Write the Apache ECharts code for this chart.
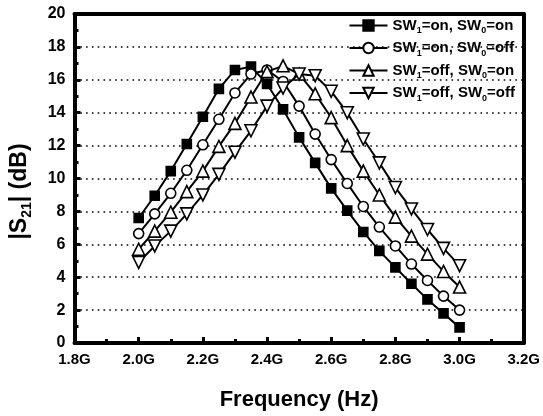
<!DOCTYPE html>
<html>
<head>
<meta charset="utf-8">
<script src="https://cdn.jsdelivr.net/npm/echarts@6/dist/echarts.min.js"></script>
<style>
html,body{margin:0;padding:0;background:#fff;}
#chart{width:543px;height:416px;}
</style>
</head>
<body>
<div id="chart"></div>
<script>
// Frequency points (GHz)
var freqGHz = [2.0, 2.05, 2.1, 2.15, 2.2, 2.25, 2.3, 2.35, 2.4, 2.45, 2.5, 2.55, 2.6, 2.65, 2.7, 2.75, 2.8, 2.85, 2.9, 2.95, 3.0];

var seriesNames = ['SW1=on, SW0=on', 'SW1=on, SW0=off', 'SW1=off, SW0=on', 'SW1=off, SW0=off'];

var s21OnOn   = [7.6, 8.95, 10.45, 12.1, 13.75, 15.45, 16.6, 16.8, 15.75, 14.2, 12.5, 10.95, 9.4, 8.05, 6.75, 5.6, 4.6, 3.6, 2.65, 1.8, 0.95];
var s21OnOff  = [6.65, 7.85, 9.1, 10.5, 12.05, 13.6, 15.2, 16.35, 16.6, 15.9, 14.4, 12.7, 11.15, 9.7, 8.3, 7.05, 5.9, 4.8, 3.8, 2.85, 2.0];
var s21OffOn  = [5.7, 6.8, 7.95, 9.2, 10.45, 11.95, 13.35, 14.95, 16.5, 16.85, 16.35, 15.15, 13.7, 12.0, 10.45, 9.0, 7.65, 6.5, 5.4, 4.35, 3.4];
var s21OffOff = [4.9, 5.9, 6.8, 7.85, 9.0, 10.25, 11.6, 12.9, 14.4, 15.5, 16.35, 16.25, 15.3, 14.0, 12.4, 10.95, 9.45, 8.15, 6.9, 5.75, 4.7];

var FONT = '"Liberation Sans", Arial, sans-serif';

function pairs(vals) {
  return freqGHz.map(function (f, i) { return [f, vals[i]]; });
}

var styles = [
  {symbol: 'rect', size: 9, fill: '#000', rotate: 0},
  {symbol: 'circle', size: 10, fill: '#fff', rotate: 0},
  {symbol: 'triangle', size: 12, fill: '#fff', rotate: 0},
  {symbol: 'triangle', size: 12, fill: '#fff', rotate: 180}
];
var allVals = [s21OnOn, s21OnOff, s21OffOn, s21OffOff];

var series = allVals.map(function (vals, k) {
  var st = styles[k];
  return {
    name: seriesNames[k],
    type: 'line',
    data: pairs(vals),
    symbol: st.symbol,
    symbolSize: st.size,
    symbolRotate: st.rotate,
    showAllSymbol: true,
    lineStyle: {color: '#000', width: 2},
    itemStyle: {color: st.fill, borderColor: '#000', borderWidth: 1.6},
    emphasis: {disabled: true},
    z: 2 + k
  };
});

var chart = echarts.init(document.getElementById('chart'), null, {renderer: 'canvas'});
chart.setOption({
  animation: false,
  backgroundColor: '#fff',
  grid: {left: 70, right: 19, top: 14, bottom: 67, containLabel: false},
  legend: {
    orient: 'vertical',
    right: 23,
    top: 13,
    itemGap: 5,
    itemWidth: 38,
    itemHeight: 13,
    data: seriesNames,
    textStyle: {
      fontFamily: FONT, fontSize: 15, fontWeight: 'bold', color: '#000',
      rich: {
        t: {fontFamily: FONT, fontSize: 15, fontWeight: 'bold', color: '#000', lineHeight: 20},
        s: {fontFamily: FONT, fontSize: 9, fontWeight: 'bold', color: '#000', lineHeight: 20, verticalAlign: 'bottom'}
      }
    },
    formatter: function (name) {
      var m = name.match(/^SW1=(\w+), SW0=(\w+)$/);
      return '{t|SW}{s|1}{t|=' + m[1] + ', SW}{s|0}{t|=' + m[2] + '}';
    }
  },
  xAxis: [{
    type: 'value',
    min: 1.8,
    max: 3.2,
    interval: 0.2,
    position: 'bottom',
    name: 'Frequency (Hz)',
    nameLocation: 'middle',
    nameGap: 46,
    nameTextStyle: {fontFamily: FONT, fontSize: 22, fontWeight: 'bold', color: '#000'},
    axisLine: {show: true, onZero: false, lineStyle: {color: '#000', width: 4}},
    axisTick: {show: true, inside: true, length: 6, lineStyle: {color: '#000', width: 3}},
    minorTick: {show: true, splitNumber: 2, length: 4, lineStyle: {color: '#000', width: 3}},
    axisLabel: {
      fontFamily: FONT, fontSize: 15, fontWeight: 'bold', color: '#000', margin: 9,
      formatter: function (v) { return v.toFixed(1) + 'G'; }
    },
    splitLine: {show: false}
  }, {
    type: 'value',
    min: 1.8,
    max: 3.2,
    interval: 0.2,
    position: 'top',
    axisLine: {show: true, onZero: false, lineStyle: {color: '#000', width: 4}},
    axisTick: {show: false},
    axisLabel: {show: false},
    splitLine: {show: false}
  }],
  yAxis: [{
    type: 'value',
    min: 0,
    max: 20,
    interval: 2,
    position: 'left',
    name: '|S{sub|21}| (dB)',
    nameLocation: 'middle',
    nameGap: 40,
    nameTextStyle: {
      fontFamily: FONT, fontSize: 23, fontWeight: 'bold', color: '#000',
      padding: [0, 26, 0, 0],
      rich: {
        sub: {fontFamily: FONT, fontSize: 14, fontWeight: 'bold', color: '#000', verticalAlign: 'bottom', lineHeight: 30}
      }
    },
    axisLine: {show: true, onZero: false, lineStyle: {color: '#000', width: 4}},
    axisTick: {show: true, inside: true, length: 6, lineStyle: {color: '#000', width: 3}},
    minorTick: {show: true, splitNumber: 2, length: 4, lineStyle: {color: '#000', width: 3}},
    axisLabel: {fontFamily: FONT, fontSize: 16, fontWeight: 'bold', color: '#000', margin: 9},
    splitLine: {show: true, lineStyle: {color: '#000', width: 1.6, type: [1.6, 4.2]}}
  }, {
    type: 'value',
    min: 0,
    max: 20,
    interval: 2,
    position: 'right',
    axisLine: {show: true, onZero: false, lineStyle: {color: '#000', width: 4}},
    axisTick: {show: false},
    axisLabel: {show: false},
    splitLine: {show: false}
  }],
  series: series
});
</script>
</body>
</html>
